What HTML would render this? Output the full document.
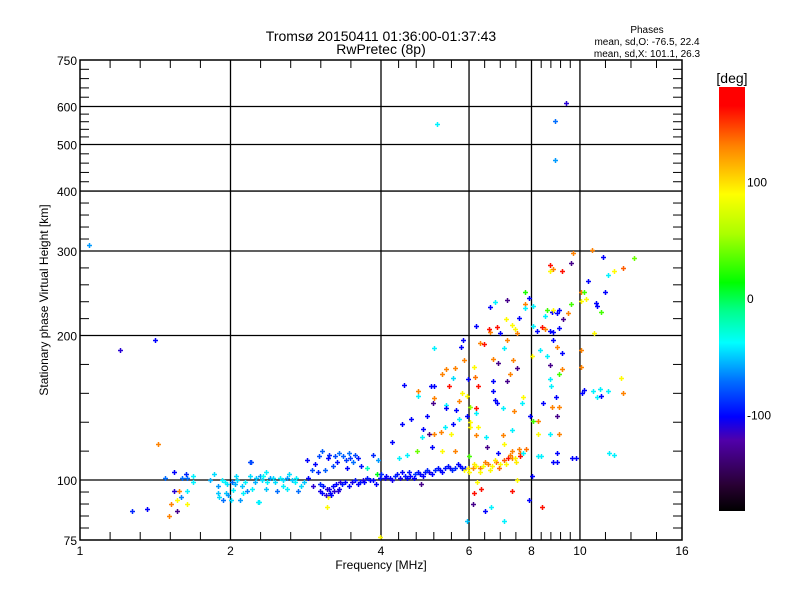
<!DOCTYPE html>
<html><head><meta charset="utf-8"><style>
body{margin:0;background:#fff;}
svg text{font-family:"Liberation Sans",sans-serif;fill:#000;}
</style></head><body>
<svg id="chart" width="800" height="600" viewBox="0 0 800 600" xmlns="http://www.w3.org/2000/svg">
<defs>
<linearGradient id="cbar" x1="0" y1="1" x2="0" y2="0">
<stop offset="0" stop-color="#000000"/><stop offset="0.06" stop-color="#280032"/><stop offset="0.167" stop-color="#5000aa"/><stop offset="0.222" stop-color="#0000ff"/><stop offset="0.306" stop-color="#006eff"/><stop offset="0.397" stop-color="#00ffff"/><stop offset="0.472" stop-color="#00ff8c"/><stop offset="0.539" stop-color="#00ff00"/><stop offset="0.653" stop-color="#aaff00"/><stop offset="0.747" stop-color="#ffff00"/><stop offset="0.861" stop-color="#ff8200"/><stop offset="0.956" stop-color="#ff0000"/><stop offset="1" stop-color="#ff0000"/>
</linearGradient>
</defs>
<text x="381" y="41" font-size="14" text-anchor="middle">Tromsø 20150411 01:36:00-01:37:43</text>
<text x="381" y="54" font-size="14" text-anchor="middle">RwPretec (8p)</text>
<text x="647" y="33" font-size="10" text-anchor="middle">Phases</text>
<text x="647" y="45" font-size="10" text-anchor="middle">mean, sd,O: -76.5, 22.4</text>
<text x="647" y="57" font-size="10" text-anchor="middle">mean, sd,X: 101.1, 26.3</text>
<g id="grid"></g>
<g id="ticks"></g>
<g id="points"></g>
<rect x="80" y="60" width="602" height="480" fill="none" stroke="#000" stroke-width="1.5"/>
<g id="labels"></g>
<text x="381" y="569" font-size="12" text-anchor="middle">Frequency [MHz]</text>
<text x="48" y="300" font-size="12" text-anchor="middle" transform="rotate(-90 48 300)">Stationary phase Virtual Height [km]</text>
<rect x="719" y="87" width="26" height="424" fill="url(#cbar)"/>
<text x="732" y="83" font-size="14" text-anchor="middle">[deg]</text>
<g id="cblabels"></g>
</svg>
<script>
const xMajor=[1,2,4,6,8,10,16];
const xMajorLabels=["1","2","4","6","8","10","16"];
const xGrid=[2,4,6,8,10];
const yMajor=[75,100,200,300,400,500,600,750];
const yMajorLabels=["75","100","200","300","400","500","600","750"];
const yGrid=[100,200,300,400,500,600];
const cbValues=[100,0,-100];
const cbLabels=["100","0","-100"];
const freq=[1.04,1.2,1.41,1.43,5.18,9.38,8.9,8.9,
1.54,1.27,1.36,1.48,1.54,1.58,1.59,1.56,1.52,1.51,1.56,1.64,1.64,1.6,1.63,1.68,1.64,1.68,
1.82,1.85,1.89,1.89,1.92,1.93,1.96,1.97,1.98,2.0,2.01,2.02,2.04,2.06,2.09,2.11,2.14,2.16,2.19,2.19,2.21,2.24,2.27,2.29,2.31,2.32,2.36,2.37,2.4,2.43,2.48,2.51,2.55,2.59,2.6,2.65,2.69,2.73,2.77,
2.84,2.91,2.95,2.99,3.09,3.13,3.23,3.26,3.36,3.42,3.47,3.51,3.6,3.75,3.85,3.94,
2.86,2.93,3.02,3.06,3.12,3.2,3.31,3.39,3.5,3.63,3.68,3.8,3.92,3.02,3.16,3.28,
3.98,4.07,4.17,4.26,4.37,4.46,4.57,4.67,4.79,4.9,5.0,5.13,5.25,5.37,5.5,5.63,5.76,5.9,
5.85,5.97,6.1,6.2,6.31,6.41,6.54,6.68,6.8,6.92,7.05,7.17,7.3,7.4,7.6,7.8,
5.1,5.78,5.83,4.44,4.74,4.74,5.04,5.1,5.3,5.4,5.47,5.57,5.63,5.74,5.8,5.85,5.94,5.98,6.13,6.16,6.24,6.31,6.44,6.61,6.58,6.82,6.92,7.05,7.14,7.3,7.4,7.5,7.77,7.9,7.77,7.77,6.61,6.77,7.14,7.12,7.55,6.19,
6.7,6.85,7.33,7.5,7.14,7.26,6.7,6.82,7.01,7.3,7.38,7.65,7.69,6.2,6.2,6.04,6.03,6.2,6.5,6.53,6.85,7.05,7.3,7.59,7.69,
5.27,5.37,5.57,5.53,5.63,5.3,5.4,5.66,5.74,4.85,4.83,5.0,5.1,5.05,4.72,4.5,4.35,4.2,4.4,4.6,5.1,4.95,5.08,5.4,5.94,6.04,6.25,6.7,6.77,7.0,
8.05,8.5,8.6,8.8,8.85,8.98,9.1,9.25,9.1,8.85,8.72,8.5,8.4,8.2,8.05,9.6,9.45,8.0,8.33,8.6,8.85,9.2,9.0,8.72,9.1,9.2,8.72,8.75,8.95,8.45,8.8,9.1,8.98,8.05,8.25,8.72,8.25,9.1,8.98,8.85,8.25,9.65,7.95,
10.05,10.2,10.05,10.3,10.4,10.75,10.83,11.0,11.2,11.4,11.7,12.2,12.8,11.1,9.6,9.2,8.72,8.72,8.85,9.7,10.55,10.05,10.05,10.65,12.1,12.2,10.1,10.2,10.6,10.8,10.95,11.4,11.45,11.0,
9.0,9.8,11.7,8.35,8.4,7.9,7.3,7.05,6.45,5.94,6.1,6.14,6.35,6.23,6.65,6.0,7.5,8.0,4.81,3.98,3.13,2.28,2.2,3.12,
3.05,3.1,3.15,3.18,3.22,3.25,3.3,3.35,3.45,3.55,3.6,3.7,3.75,3.85,3.9,4.0,4.1,4.2,4.3,4.4,4.5,4.55,4.65,4.75,4.85,4.95,5.05,5.2,5.3,5.45,5.55,5.7,5.8,
3.0,3.05,3.15,3.2,3.3,3.4,3.45,3.55,3.65,
6.0,6.15,6.3,6.45,6.6,6.75,6.9,7.1,7.25,7.45,7.55,
2.05,2.12,2.25,2.35,2.45,2.55,2.62,2.7,2.8,1.95,1.9];
const height=[309,187,196,119,553,609,560,465,
104,86,87,101,95,95,92,91,89,84,86,89,95,101,103,102,101,99,
100,103,97,94,100,91,94,98,93,91,99,95.5,98,100,91,97,99,95,109,102,96,99,90,102,100,102,96,99,101,101,95,101,100,101,96,100,99,95,97,
110,105,108,104,105,111,112,109,112,106,111,109,111,106,113,110,
101,97,95,97,96,97,99,99,99,99,100,100,103,98,94,95,
101,101,101,102,101,102,102,103,103,104,104,105,105,106,106,106,107,106,
105,106,106,107,106,107,108,107,109,108,110,111,111,111,114,116,
188,189,196,158,153,150,157,157,166,170,157,163,171,146,152,178,150,162,172,164,157,193,192,203,206,208,202,188,196,210,206,202,246,240,233,228,229,235,237,216,218,209,
179,175,178,171,161,166,153,145,124,127,139,145,149,141,138,132,129,124,123,117,114,119,115,112,114,
126,129,131,125,115,115,143,140,134,128,123,125,125,117,115,113,111,120,131,134,148,136,145,141,136,142,129,161,147,141,
230,220,226,224,226,223,226,216,207,203,204,206,208,204,209,233,223,181,187,181,196,184,189,174,166,170,162,157,149,145,142,142,136,133,133,125,125,125,114,109,112,111,136,
247,247,236,238,260,234,230,224,246,267,272,277,290,292,283,272,281,272,275,297,302,187,172,202,163,152,152,154,153,149,155,153,114,150,
109,111,113,112,88,91,95,82,86,82,89,94,96,99,88,112,100,102,98,76,92,90,109,88,
94,93,96,93,95,98,96,98,97,100,98,99,101,100,98,103,102,100,103,104,101,104,101,104,102,105,103,106,104,107,105,108,106,
112,115,113,107,114,110,114,113,107,
104,108,104,109,105,110,106,108,113,109,116,
102,94,101,104,99,97,103,101,99,99,92];
const phase=[-60,-110,-100,130,-40,-110,-70,-60,
-100,-90,-100,-70,-110,130,-65,90,130,130,-130,90,-40,-70,-90,-40,-70,-40,
-55,-45,-60,-50,-40,-70,-50,-45,-60,-45,-70,-40,-55,-45,-60,-50,-40,-65,-80,-45,-40,-55,-40,-60,-45,-35,-50,-40,-60,-45,-70,-40,-45,-60,-40,-50,-40,-70,-45,
-100,-80,-100,-90,-75,-100,-80,-95,-75,-100,-85,-70,-95,-20,-90,-60,
-100,-110,-105,-95,-110,-100,-110,-100,-105,-95,-110,-100,10,-90,-100,-110,
-95,-105,-100,-90,-105,-95,-100,-85,-100,-95,-105,-90,-100,-95,-105,-90,-100,-95,
90,95,125,90,130,85,130,90,135,90,140,160,130,95,135,135,
-40,-100,-100,-100,130,-40,-100,-100,130,130,160,-45,130,130,90,130,90,-100,90,135,160,130,160,130,160,160,-100,-40,130,90,90,130,20,-100,130,-40,-100,-40,-130,90,-100,-100,
130,-130,130,-130,-130,130,-100,-100,130,-40,130,-40,90,160,-40,90,90,130,-40,-130,-100,90,130,160,-40,
130,-40,-100,90,130,90,-40,-100,-40,-100,-40,-130,130,-100,40,-40,-40,-100,-100,-100,130,-100,-130,-100,-100,50,90,-100,-100,-40,
-40,-40,30,-100,90,-100,-100,-130,-100,-100,-100,130,160,-100,-40,30,130,90,-40,-40,-100,-100,130,-130,30,130,-40,-40,-100,-100,130,130,-130,30,130,-40,90,130,-100,-100,-40,-100,-100,
130,30,90,90,-100,-100,-100,30,-100,-40,90,140,40,-100,-130,160,160,90,130,130,130,130,130,90,90,130,-100,-100,-40,-40,-40,-40,-40,-100,
-100,-100,-40,-40,160,-100,160,-40,-100,-50,-130,160,160,90,-40,30,90,-100,-130,90,90,-40,-80,90,
-100,-110,-105,-100,-110,-100,-105,-95,-100,-95,-100,-100,-95,-100,-100,-90,-100,-105,-95,-100,-100,-95,-100,-95,-100,-90,-100,-95,-100,-95,-90,-100,-95,
-80,-75,-90,-80,-70,-85,-70,-80,-95,
90,95,90,130,90,95,135,90,130,95,130,
-45,-40,-50,-40,-45,-40,-45,-40,-50,-40,-45];

const X0=80,X1=682,Y0=540,Y1=60;
function xs(f){return X0+(X1-X0)*Math.log(f)/Math.log(16);}
function ys(h){return Y0-(Y0-Y1)*Math.log(h/75)/Math.log(10);}
const NS="http://www.w3.org/2000/svg";
function mk(tag,attrs,parent){const e=document.createElementNS(NS,tag);for(const k in attrs)e.setAttribute(k,attrs[k]);parent.appendChild(e);return e;}
const stops=[[-180,0,0,0],[-158,40,0,50],[-120,80,0,170],[-100,0,0,255],[-70,0,110,255],[-37,0,255,255],[-10,0,255,140],[14,0,255,0],[55,170,255,0],[89,255,255,0],[130,255,130,0],[164,255,0,0],[180,255,0,0]];
function col(p){for(let i=1;i<stops.length;i++){if(p<=stops[i][0]){const a=stops[i-1],b=stops[i];const t=(p-a[0])/(b[0]-a[0]);return 'rgb('+[1,2,3].map(k=>Math.round(a[k]+(b[k]-a[k])*t)).join(',')+')';}}return 'rgb(255,0,0)';}

const grid=document.getElementById('grid');
xGrid.forEach(f=>{const l=mk('line',{x1:xs(f),x2:xs(f),y1:Y1,y2:Y0,stroke:'#000','stroke-width':1.3},grid);

});
yGrid.forEach(h=>{const l=mk('line',{x1:X0,x2:X1,y1:ys(h),y2:ys(h),stroke:'#000','stroke-width':1.3},grid);

});

const ticks=document.getElementById('ticks');
const xDiv=[5,5,5,4,5,4];
for(let i=0;i<xMajor.length-1;i++){const a=xs(xMajor[i]),b=xs(xMajor[i+1]);for(let k=1;k<xDiv[i];k++){const x=a+(b-a)*k/xDiv[i];
const t1=mk('line',{x1:x,x2:x,y1:Y0,y2:Y0-8,stroke:'#000','stroke-width':1},ticks);


const t2=mk('line',{x1:x,x2:x,y1:Y1,y2:Y1+8,stroke:'#000','stroke-width':1},ticks);

}}
for(let i=0;i<yMajor.length-1;i++){const a=ys(yMajor[i]),b=ys(yMajor[i+1]);for(let k=1;k<5;k++){const y=a+(b-a)*k/5;
const t1=mk('line',{x1:X0,x2:X0+9,y1:y,y2:y,stroke:'#000','stroke-width':1},ticks);


const t2=mk('line',{x1:X1,x2:X1-9,y1:y,y2:y,stroke:'#000','stroke-width':1},ticks);

}}

const labels=document.getElementById('labels');
xMajor.forEach((f,i)=>{const t=mk('text',{x:xs(f),y:555,'font-size':12,'text-anchor':'middle'},labels);t.textContent=xMajorLabels[i];

});
yMajor.forEach((h,i)=>{const t=mk('text',{x:77,y:ys(h)+5,'font-size':12,'text-anchor':'end'},labels);t.textContent=yMajorLabels[i];

});

const cbl=document.getElementById('cblabels');
cbValues.forEach((v,i)=>{const y=299-v*1.165;const t=mk('text',{x:747,y:y+4,'font-size':12},cbl);t.textContent=cbLabels[i];

});

const pts=document.getElementById('points');
for(let i=0;i<freq.length;i++){const x=Math.round(xs(freq[i]))+0.5,y=Math.round(ys(height[i]))+0.5;
const p=mk('path',{d:'M'+(x-2.5)+' '+y+'H'+(x+2.5)+'M'+x+' '+(y-2.5)+'V'+(y+2.5),stroke:col(phase[i]),'stroke-width':1.5,fill:'none'},pts);

}
</script>
</body></html>
